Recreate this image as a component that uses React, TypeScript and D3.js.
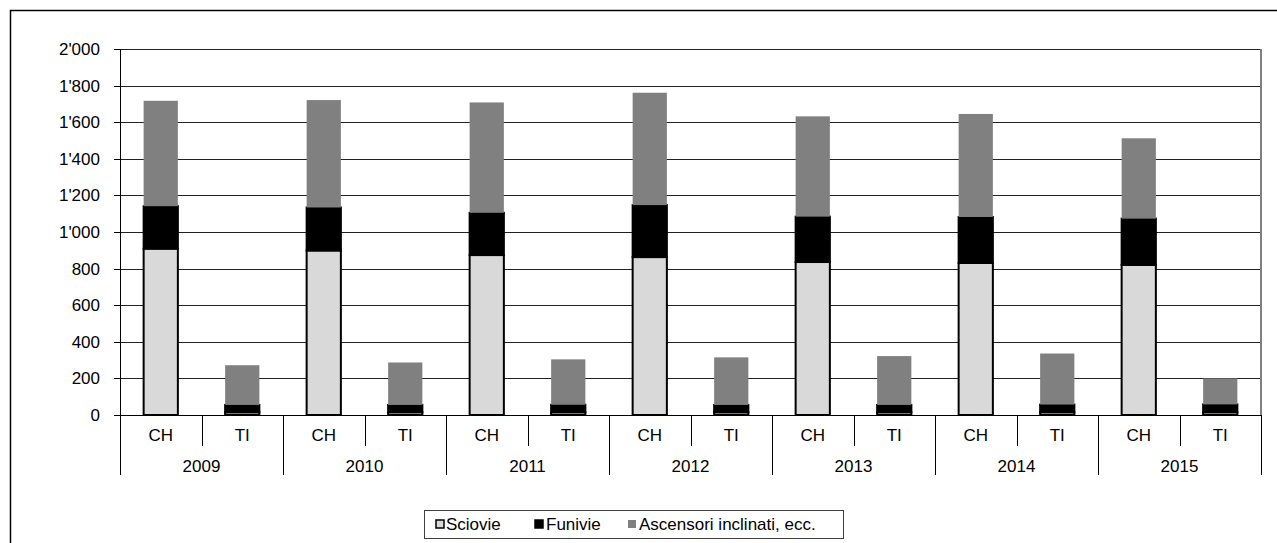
import React from "react";
import * as d3 from "d3";

const years = ["2009", "2010", "2011", "2012", "2013", "2014", "2015"];
const regions = ["CH", "TI"];
const seriesNames = ["Sciovie", "Funivie", "Ascensori inclinati, ecc."];
const seriesColors = ["#d9d9d9", "#000000", "#808080"];
const seriesStroke = ["#000000", "#000000", "none"];

const chSciovie = [909, 899, 874, 863, 836, 831, 820];
const chFunivie = [232, 235, 231, 284, 248, 251, 253];
const chAscensori = [576, 587, 603, 614, 548, 563, 439];
const tiSciovie = [15, 15, 15, 15, 15, 15, 15];
const tiFunivie = [40, 40, 41, 40, 40, 42, 43];
const tiAscensori = [217, 232, 248, 260, 267, 279, 142];

const yTicks = [0, 200, 400, 600, 800, 1000, 1200, 1400, 1600, 1800, 2000];

const FONT = "'Liberation Sans', Arial, sans-serif";

export default function App() {
  const W = 1277;
  const H = 543;
  const left = 120;
  const right = 1261;
  const top = 49;
  const bottom = 415;
  const fs = 17;

  const rows = years.flatMap((yr, i) => [
    { key: yr + "-CH", year: yr, region: regions[0], s0: chSciovie[i], s1: chFunivie[i], s2: chAscensori[i] },
    { key: yr + "-TI", year: yr, region: regions[1], s0: tiSciovie[i], s1: tiFunivie[i], s2: tiAscensori[i] },
  ]);

  const x = d3.scaleBand<string>().domain(rows.map((r) => r.key)).range([left, right]).padding(0);
  const y = d3.scaleLinear().domain([0, 2000]).range([bottom, top]);
  const step = x.step();
  const barW = step * 0.42;

  const stack = d3.stack<any>().keys(["s0", "s1", "s2"]);
  const stacked = stack(rows);

  const fmt = (v: number) => d3.format(",")(v).replace(/,/g, "'");

  const legendItems = [
    { mx: 436, tx: 446 },
    { mx: 535, tx: 546 },
    { mx: 628, tx: 639 },
  ];

  return (
    <svg
      width={W}
      height={H}
      style={{ position: "absolute", left: 0, top: 0, background: "#fff" }}
      fontFamily={FONT}
    >
      <rect x={0} y={0} width={W} height={H} fill="#fff" />
      <rect x={10.5} y={10.5} width={1300} height={600} fill="none" stroke="#000" strokeWidth={1.5} />

      {/* gridlines */}
      {yTicks.map((t) => (
        <line key={"g" + t} x1={left} x2={right} y1={Math.round(y(t)) + 0.5} y2={Math.round(y(t)) + 0.5} stroke="#222" strokeWidth={1} />
      ))}
      <line x1={right} x2={right} y1={top} y2={bottom} stroke="#808080" strokeWidth={2} />

      {/* bars */}
      {stacked.map((layer, si) =>
        layer.map((d, i) => {
          const r = rows[i];
          const cx = (x(r.key) as number) + step / 2;
          const y0 = y(d[0]);
          const y1 = y(d[1]);
          return (
            <rect
              key={si + "-" + r.key}
              x={cx - barW / 2}
              y={y1}
              width={barW}
              height={Math.max(0, y0 - y1)}
              fill={seriesColors[si]}
              stroke={seriesStroke[si]}
              strokeWidth={seriesStroke[si] === "none" ? 0 : 2}
            />
          );
        })
      )}

      {/* y axis */}
      <line x1={left + 0.5} x2={left + 0.5} y1={top} y2={bottom} stroke="#000" strokeWidth={1} />
      {yTicks.map((t) => (
        <g key={"t" + t}>
          <line x1={left - 6} x2={left} y1={Math.round(y(t)) + 0.5} y2={Math.round(y(t)) + 0.5} stroke="#000" />
          <text x={100} y={y(t) + 6} textAnchor="end" fontSize={fs} fill="#000">
            {fmt(t)}
          </text>
        </g>
      ))}

      {/* x axis */}
      <line x1={left} x2={right} y1={bottom + 0.5} y2={bottom + 0.5} stroke="#000" strokeWidth={1} />
      {rows.map((r) => (
        <text key={"c" + r.key} x={(x(r.key) as number) + step / 2} y={441} textAnchor="middle" fontSize={fs} fill="#000">
          {r.region}
        </text>
      ))}
      {years.map((yr) => (
        <line
          key={"sep" + yr}
          x1={Math.round(x(yr + "-TI") as number) + 0.5}
          x2={Math.round(x(yr + "-TI") as number) + 0.5}
          y1={bottom}
          y2={446}
          stroke="#000"
        />
      ))}
      {[...years.map((yr) => x(yr + "-CH") as number), right].map((px, i) => (
        <line key={"ys" + i} x1={Math.round(px) + 0.5} x2={Math.round(px) + 0.5} y1={bottom} y2={475} stroke="#000" />
      ))}
      {years.map((yr) => (
        <text key={"y" + yr} x={(x(yr + "-CH") as number) + step} y={472} textAnchor="middle" fontSize={fs} fill="#000">
          {yr}
        </text>
      ))}

      {/* legend */}
      <rect x={424.5} y={510.5} width={419} height={28} fill="#fff" stroke="#404040" strokeWidth={1} />
      {seriesNames.map((name, i) => (
        <g key={"l" + i}>
          <rect
            x={legendItems[i].mx}
            y={520}
            width={8}
            height={8}
            fill={seriesColors[i]}
            stroke={seriesStroke[i] === "none" ? "none" : "#000"}
            strokeWidth={1.5}
          />
          <text x={legendItems[i].tx} y={530} fontSize={fs} fill="#000">
            {name}
          </text>
        </g>
      ))}
    </svg>
  );
}
